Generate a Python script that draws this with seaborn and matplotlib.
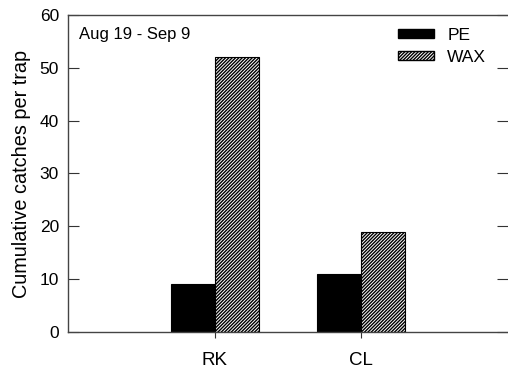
import matplotlib
matplotlib.use("Agg")
import matplotlib.pyplot as plt
from matplotlib.patches import Patch
import seaborn as sns
import pandas as pd

sites = ["RK", "CL"]
traps = ["PE", "WAX"]
pe_catches = [9, 11]
wax_catches = [52, 19]

df = pd.DataFrame({
    "site": sites * 2,
    "trap": ["PE"] * len(sites) + ["WAX"] * len(sites),
    "catches": pe_catches + wax_catches,
})

sns.set_style("ticks")
plt.rcParams["font.family"] = ["Liberation Sans", "DejaVu Sans"]
plt.rcParams["hatch.linewidth"] = 1.0
plt.rcParams["text.color"] = "black"

fig = plt.figure(figsize=(5.08, 3.70), dpi=100)
ax = fig.add_axes([0.134, 0.1027, 0.866, 0.857])

sns.barplot(data=df, x="site", y="catches", hue="trap", order=sites,
            hue_order=traps, palette={"PE": "black", "WAX": "white"},
            width=0.6, gap=0, saturation=1, edgecolor="black",
            linewidth=0.8, legend=False, ax=ax)

# hatch the wax bars
hatch = "//////////"
for bar in ax.containers[1]:
    bar.set_hatch(hatch)

ax.set_xlim(-1, 2)
ax.set_ylim(0, 60)
ax.set_yticks(range(0, 61, 10))
ax.set_xlabel("")
ax.set_ylabel("Cumulative catches per trap", fontsize=14.3, color="black")
ax.yaxis.set_label_coords(-0.084, 0.5)

ax.tick_params(axis="y", direction="in", length=8, width=0.8, left=True,
               right=True, labelsize=12.5, pad=6.5, color="#333333",
               labelcolor="black")
ax.tick_params(axis="x", direction="out", length=4.3, width=0.8,
               labelsize=13.5, pad=10, color="#333333", labelcolor="black")

for side in ["top", "left", "bottom"]:
    ax.spines[side].set_color("#444444")
    ax.spines[side].set_linewidth(1.0)
ax.spines["right"].set_visible(False)

ax.text(0.025, 0.937, "Aug 19 - Sep 9", transform=ax.transAxes,
        fontsize=12, va="center", ha="left")

handles = [Patch(facecolor="black", edgecolor="black", label="PE"),
           Patch(facecolor="white", edgecolor="black", hatch=hatch, label="WAX")]
fig.legend(handles=handles, loc="upper left", bbox_to_anchor=(0.783, 0.925),
           frameon=False, fontsize=12.5, handlelength=2.1, handleheight=0.46,
           handletextpad=0.75, labelspacing=0.4, borderpad=0, borderaxespad=0)

fig.savefig("out.png", dpi=100)
